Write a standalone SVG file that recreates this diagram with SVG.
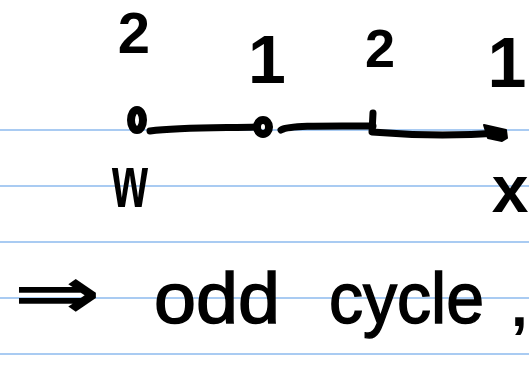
<svg xmlns="http://www.w3.org/2000/svg" width="529" height="375" viewBox="0 0 529 375">
<style>
.rule{stroke:#a9cbf2;stroke-width:2}
.t{font-family:"Liberation Sans","DejaVu Sans",sans-serif;font-weight:bold;fill:#000}
.hw{font-family:"Liberation Sans","DejaVu Sans",sans-serif;fill:#000;stroke:#000;stroke-width:1.5}
.edge{fill:none;stroke:#000;stroke-width:7;stroke-linecap:round;stroke-linejoin:round}
.node{fill:none;stroke:#000;stroke-width:8}
</style>
<rect width="529" height="375" fill="#fff"/>
<g id="rules">
<line class="rule" x1="0" y1="130" x2="529" y2="130"/>
<line class="rule" x1="0" y1="186" x2="529" y2="186"/>
<line class="rule" x1="0" y1="242" x2="529" y2="242"/>
<line class="rule" x1="0" y1="298" x2="529" y2="298"/>
<line class="rule" x1="0" y1="354" x2="529" y2="354"/>
</g>
<g id="connectors">
<path class="edge" d="M150,131 C180,127 230,128 256,127"/>
<path class="edge" d="M281,130 C290,125 330,126 373,126"/>
<path class="edge" d="M373,113 L372,132 C420,136 470,135 500,133"/>
<path d="M484,125 L506,130 L507,138 L502,141 L488,138 Z" fill="#000" stroke="#000" stroke-width="2" stroke-linejoin="round"/>
</g>
<g id="node-w">
<ellipse class="node" cx="137" cy="120" rx="6" ry="10"/>
<text class="t" x="134" y="53" font-size="58" text-anchor="middle">2</text>
<text class="t" x="130" y="207" font-size="74" text-anchor="middle" textLength="36" lengthAdjust="spacingAndGlyphs">w</text>
</g>
<g id="node-a">
<ellipse class="node" cx="263" cy="127" rx="6" ry="7"/>
<text class="t" x="267" y="83" font-size="68" text-anchor="middle">1</text>
</g>
<g id="node-b">
<text class="t" x="380" y="67" font-size="54" text-anchor="middle">2</text>
</g>
<g id="node-x">
<text class="t" x="507" y="87" font-size="70" text-anchor="middle">1</text>
<text class="t" x="510" y="212" font-size="66" text-anchor="middle">x</text>
</g>
<g id="conclusion">
<text class="t" x="57" y="318" font-size="72" text-anchor="middle" textLength="88" lengthAdjust="spacingAndGlyphs" font-family="DejaVu Sans">⇒</text>
<text class="hw" x="154" y="323" font-size="72" textLength="126" lengthAdjust="spacingAndGlyphs">odd</text>
<text class="hw" x="329" y="323" font-size="72" textLength="155" lengthAdjust="spacingAndGlyphs">cycle</text>
<text class="t" x="511" y="326" font-size="60">,</text>
</g>
</svg>
